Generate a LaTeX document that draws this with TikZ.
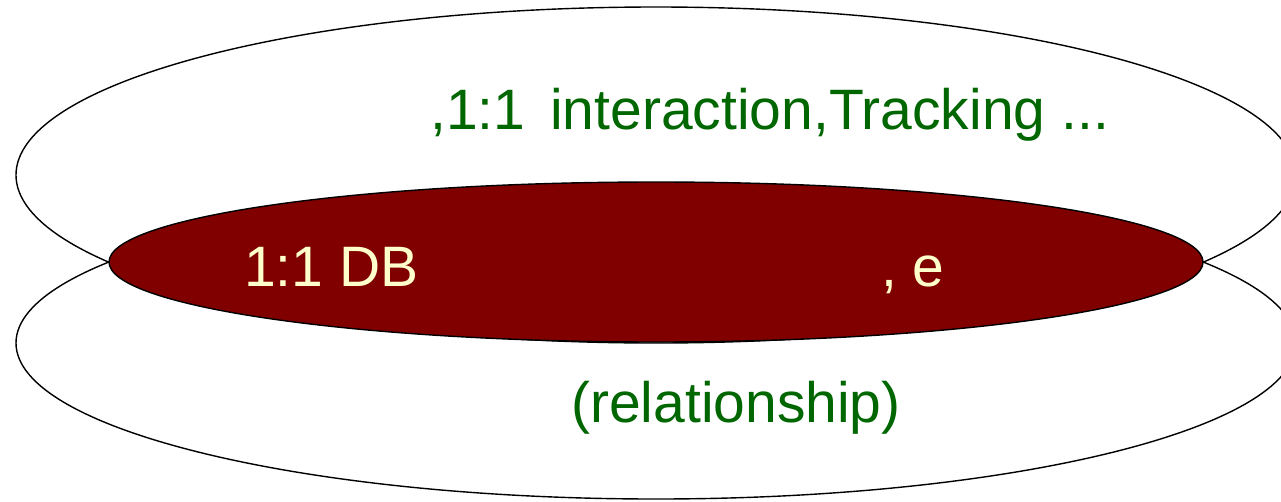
\documentclass[tikz,border=0pt]{standalone}
\usepackage{fontspec}
\setmainfont{Liberation Sans}
\usetikzlibrary{shapes, shapes.geometric}

\definecolor{dbred}{RGB}{128,0,0}
\definecolor{dbgreen}{RGB}{0,102,0}
\definecolor{dbcream}{RGB}{255,255,204}

\begin{document}
\begin{tikzpicture}[x=1pt, y=-1pt,
        ring/.style={draw, ellipse, inner sep=0pt, line width=1.4pt},
        txt/.style={inner sep=0pt, anchor=base west, font=\fontsize{57}{60}\selectfont}]
        \clip (0,0) rectangle (1281,501);
        \node[ring, minimum width=1280pt, minimum height=336pt] (outer) at (656,175) {};
        \node[ring, minimum width=1280pt, minimum height=312pt] (lower) at (656,343) {};
        \node[ring, fill=dbred, minimum width=1094pt, minimum height=160pt] (core) at (656,262) {};
        \node[txt, text=dbgreen] (track) at (430,129) {,1:1\hspace{25pt}interaction,Tracking ...};
        \node[txt, text=dbcream] (db) at (244,286) {1:1 DB};
        \node[txt, text=dbcream] (e) at (881,286) {, e};
        \node[txt, text=dbgreen] (rel) at (571,422) {(relationship)};
    \end{tikzpicture}
\end{document}
